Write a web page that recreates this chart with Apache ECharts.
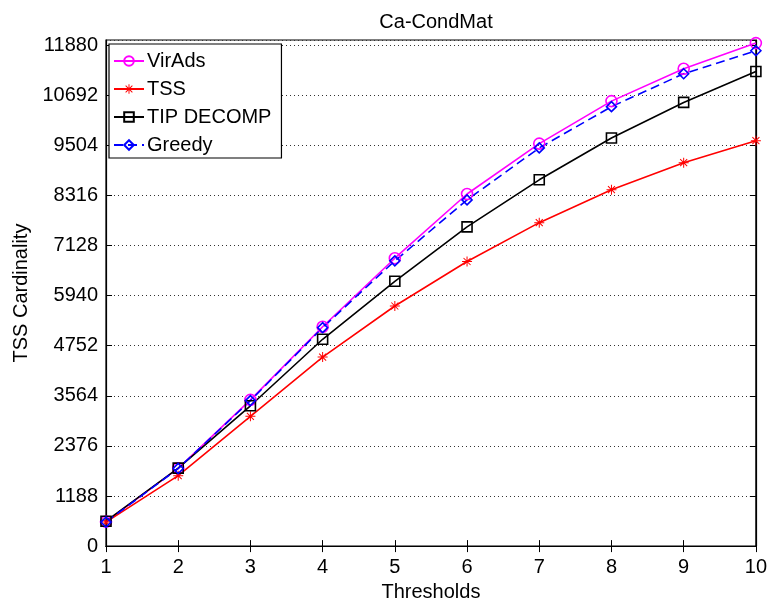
<!DOCTYPE html>
<html>
<head>
<meta charset="utf-8">
<script src="https://cdn.jsdelivr.net/npm/echarts@6/dist/echarts.min.js"></script>
<style>html,body{margin:0;padding:0;background:#fff}#c{width:770px;height:607px}</style>
</head>
<body>
<div id="c"></div>
<script>
const thresholds = [1, 2, 3, 4, 5, 6, 7, 8, 9, 10];
const virAds   = [580, 1844, 3468, 5202, 6826, 8349, 9543, 10551, 11317, 11926];
const tss      = [570, 1671, 3077, 4483, 5693, 6748, 7669, 8451, 9091, 9613];
const tipDecomp= [590, 1850, 3327, 4904, 6279, 7568, 8685, 9677, 10520, 11254];
const greedy   = [570, 1840, 3450, 5180, 6764, 8208, 9442, 10419, 11200, 11746];
const yTickStep = 1188;
const yMax = 12000;
const seriesNames = ['VirAds', 'TSS', 'TIP DECOMP', 'Greedy'];

const FONT = "'Liberation Sans', Arial, Helvetica, sans-serif";
const star = 'path://M-1,-10L1,-10L1,10L-1,10Z M-10,-1L10,-1L10,1L-10,1Z M-6.3,-7.7L7.7,6.3L6.3,7.7L-7.7,-6.3Z M6.3,-7.7L7.7,-6.3L-6.3,7.7L-7.7,6.3Z';

function pairs(arr){ return thresholds.map((x,i)=>[x, arr[i]]); }

function mk(name, data, color, symbol, size, dashed, hollow){
  return {
    name, type:'line', data: pairs(data),
    symbol, symbolSize: size,
    lineStyle:{color, width:1.6, type: dashed ? [9,5] : 'solid'},
    itemStyle: hollow ? {color:'rgba(0,0,0,0)', borderColor:color, borderWidth:1.6} : {color, borderColor:color, borderWidth:0},
    emphasis:{disabled:true},
    animation:false
  };
}

const chart = echarts.init(document.getElementById('c'), null, {renderer:'canvas'});
chart.setOption({
  backgroundColor:'#fff',
  animation:false,
  textStyle:{fontFamily:FONT},
  title:{
    text:'Ca-CondMat', left:431, top:7, textAlign:'center',
    textStyle:{fontFamily:FONT, fontSize:20, fontWeight:'normal', color:'#000'}
  },
  legend:{
    data: seriesNames,
    orient:'vertical', left:109, top:44,
    padding:[7,10,3,4], itemGap:8, itemWidth:30, itemHeight:12,
    backgroundColor:'#fff', borderColor:'#000', borderWidth:1.2,
    textStyle:{fontFamily:FONT, fontSize:20, color:'#000', lineHeight:20, padding:[0,0,0,-2]},
    selectedMode:false
  },
  grid:{left:106, right:13, top:40, bottom:54, show:true, borderColor:'#000', borderWidth:1.2, backgroundColor:'#fff'},
  xAxis:[{
    type:'value', min:1, max:10, interval:1,
    name:'Thresholds', nameLocation:'middle', nameGap:35,
    nameTextStyle:{fontFamily:FONT, fontSize:20, color:'#000'},
    axisLine:{show:true, lineStyle:{color:'#000', width:1.2}},
    axisTick:{show:true, inside:true, length:6, lineStyle:{color:'#000'}},
    axisLabel:{fontFamily:FONT, fontSize:20, color:'#000', margin:11},
    splitLine:{show:false}
  },{
    type:'value', min:1, max:10, interval:1, position:'top',
    axisLine:{show:true, lineStyle:{color:'#000', width:1.2}},
    axisTick:{show:true, inside:true, length:6, lineStyle:{color:'#000'}},
    axisLabel:{show:false}, splitLine:{show:false}
  }],
  yAxis:[{
    type:'value', min:0, max:yMax, interval:yTickStep,
    name:'TSS Cardinality', nameLocation:'middle', nameGap:73,
    nameTextStyle:{fontFamily:FONT, fontSize:20, color:'#000'},
    axisLine:{show:true, lineStyle:{color:'#000', width:1.2}},
    axisTick:{show:true, inside:true, length:6, lineStyle:{color:'#000'}},
    axisLabel:{fontFamily:FONT, fontSize:20, color:'#000', margin:8, showMaxLabel:false,
      formatter: v => (v % yTickStep === 0 ? String(v) : '')},
    splitLine:{show:true, lineStyle:{color:'#333', width:1, type:[1,3]}}
  },{
    type:'value', min:0, max:yMax, interval:yTickStep, position:'right',
    axisLine:{show:true, lineStyle:{color:'#000', width:1.2}},
    axisTick:{show:true, inside:true, length:6, lineStyle:{color:'#000'}},
    axisLabel:{show:false}, splitLine:{show:false}
  }],
  series:[
    mk('VirAds', virAds, '#ff00ff', 'circle', 11, false, true),
    mk('TSS', tss, '#ff0000', star, 10, false, false),
    mk('TIP DECOMP', tipDecomp, '#000000', 'rect', 10, false, true),
    mk('Greedy', greedy, '#0000ff', 'diamond', 10, true, true)
  ]
});
</script>
</body>
</html>
